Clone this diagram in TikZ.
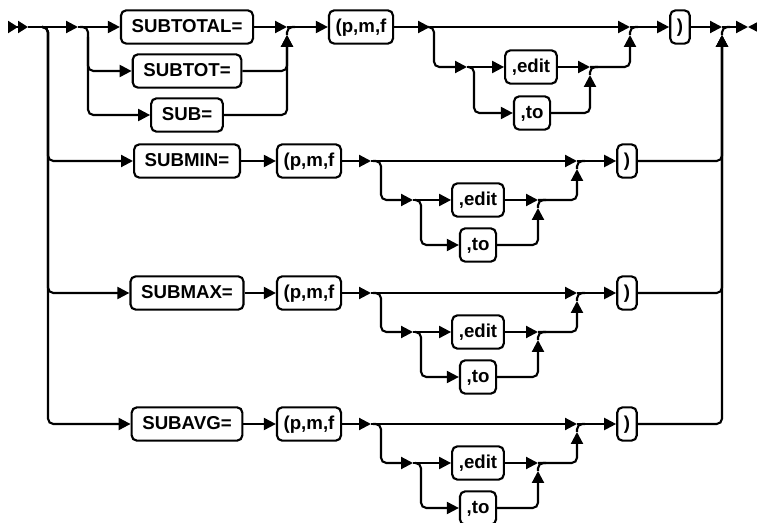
\documentclass[tikz,border=0pt]{standalone}
\usepackage{fontspec}
\newfontfamily\railfont{Liberation Sans}
\usetikzlibrary{arrows.meta,calc}

\begin{document}
\begin{tikzpicture}[x=0.75pt, y=-0.75pt,
  rail/.style={line width=1.6pt, rounded corners=4pt},
  tip/.style={-{Triangle[length=9pt,width=9pt]}},
  railbox/.style={draw, line width=1.6pt, rounded corners=4pt, inner xsep=5pt, inner ysep=6pt,
    text height=11pt, text depth=2pt, font={\railfont\bfseries\fontsize{14pt}{17pt}\selectfont}},
  kwbox/.style={railbox, inner xsep=8pt}]
  \useasboundingbox (0,0) rectangle (757,523);

  % top row
  \node[kwbox] (subtotal) at (187,27) {SUBTOTAL=};
  \node[kwbox] (subtot) at (187,71) {SUBTOT=};
  \node[kwbox] (sub) at (187,115) {SUB=};
  \node[railbox] (pmf) at (361,27) {(p,m,f};
  \node[railbox] (edit) at (531,67) {,edit};
  \node[railbox] (to) at (532,113) {,to};
  \node[railbox] (rparen) at (680,27) {)};
  \coordinate (start) at (8,27);
  \coordinate (sa) at (48,27);
  \coordinate (sb) at (88,27);
  \coordinate (mb) at (287,27);
  \coordinate (sc) at (434,27);
  \coordinate (sd) at (474,67);
  \coordinate (mc) at (590,67);
  \coordinate (md) at (630,27);
  \coordinate (me) at (722,27);
  \coordinate (stop) at (748,27);

  \draw[rail, -{Triangle[length=7.5pt,width=9pt] Triangle[length=7.5pt,width=9pt]}] (start) -- ($(start)+(20,0)$);
  \draw[rail, tip] ($(start)+(20,0)$) -- ($(sb)+(-10,0)$);
  \draw[rail, tip] ($(sb)+(-10,0)$) -- (subtotal.west);
  \draw[rail, tip] ($(sb)+(-8,0)$) -- (sb) |- (subtot.west);
  \draw[rail, tip] ($(sb)+(0,10)$) |- (sub.west);
  \draw[rail, tip] (subtotal.east) -- (mb);
  \draw[rail, tip] (subtot.east) -| ($(mb)+(0,8)$);
  \draw[rail, tip] (sub.east) -| ($(mb)+(0,8)$);
  \draw[rail] ($(mb)+(0,8)$) |- ($(mb)+(8,0)$);
  \draw[rail, tip] (mb) -- (pmf.west);
  \draw[rail, tip] (pmf.east) -- ($(sc)+(-4,0)$);
  \draw[rail, tip] ($(sc)+(-4,0)$) -- (md);
  \draw[rail, tip] ($(sc)+(-6,0)$) -- (sc) |- ($(sd)+(-7,0)$);
  \draw[rail, tip] ($(sd)+(-7,0)$) -- (edit.west);
  \draw[rail, tip] ($(sd)+(-6,0)$) -- (sd) |- (to.west);
  \draw[rail, tip] (edit.east) -- (mc);
  \draw[rail, tip] (to.east) -| ($(mc)+(0,8)$);
  \draw[rail] ($(mc)+(0,8)$) |- ($(mc)+(8,0)$);
  \draw[rail, tip] (mc) -| ($(md)+(0,8)$);
  \draw[rail] ($(md)+(0,8)$) |- ($(md)+(8,0)$);
  \draw[rail, tip] (md) -- (rparen.west);
  \draw[rail, tip] (rparen.east) -- (me);
  \draw[rail, tip] (me) -- (stop);
  \draw[rail, tip] ($(stop)+(9,0)$) -- (stop);

  % SUBMIN, SUBMAX, SUBAVG rows
  \foreach \y/\kw/\nm in {161/SUBMIN=/min, 293/SUBMAX=/max, 424/SUBAVG=/avg} {
    \node[kwbox] (\nm) at (187,\y) {\kw};
    \node[railbox] (\nm-pmf) at (309,\y) {(p,m,f};
    \node[railbox] (\nm-edit) at (478,\y+39) {,edit};
    \node[railbox] (\nm-to) at (478,\y+84) {,to};
    \node[railbox] (\nm-rp) at (627,\y) {)};
    \coordinate (\nm-sc) at (381,\y);
    \coordinate (\nm-sd) at (421,\y+39);
    \coordinate (\nm-mc) at (538,\y+39);
    \coordinate (\nm-md) at (577,\y);
    \draw[rail, tip] ($(sa)+(-6,0)$) -- (sa) |- (\nm.west);
    \draw[rail, tip] (\nm.east) -- (\nm-pmf.west);
    \draw[rail, tip] (\nm-pmf.east) -- ($(\nm-sc)+(-10,0)$);
    \draw[rail, tip] ($(\nm-sc)+(-10,0)$) -- (\nm-md);
    \draw[rail, tip] ($(\nm-sc)+(-8,0)$) -- (\nm-sc) |- ($(\nm-sd)+(-8,0)$);
    \draw[rail, tip] ($(\nm-sd)+(-8,0)$) -- (\nm-edit.west);
    \draw[rail, tip] ($(\nm-sd)+(-6,0)$) -- (\nm-sd) |- (\nm-to.west);
    \draw[rail, tip] (\nm-edit.east) -- (\nm-mc);
    \draw[rail, tip] (\nm-to.east) -| ($(\nm-mc)+(0,8)$);
    \draw[rail] ($(\nm-mc)+(0,8)$) |- ($(\nm-mc)+(8,0)$);
    \draw[rail, tip] (\nm-mc) -| ($(\nm-md)+(0,8)$);
    \draw[rail] ($(\nm-md)+(0,8)$) |- ($(\nm-md)+(8,0)$);
    \draw[rail, tip] (\nm-md) -- (\nm-rp.west);
    \draw[rail, tip] (\nm-rp.east) -| ($(me)+(0,8)$);
  }
  \draw[rail] ($(me)+(0,8)$) |- ($(me)+(8,0)$);
\end{tikzpicture}
\end{document}
